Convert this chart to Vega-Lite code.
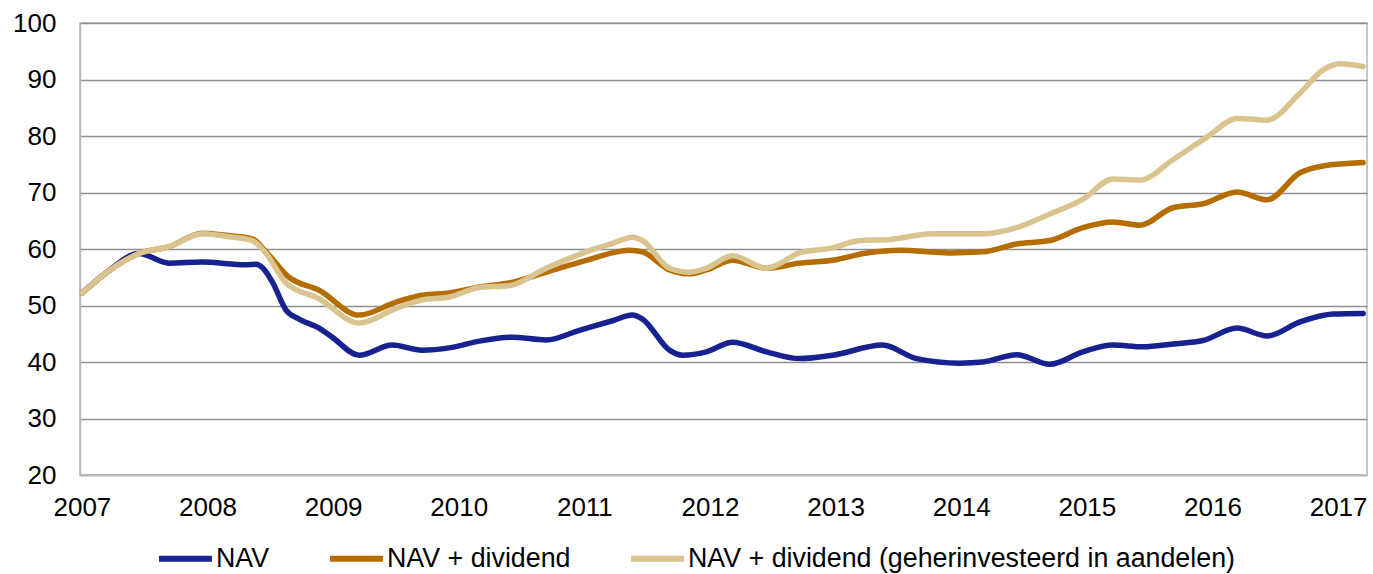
{
  "$schema": "https://vega.github.io/schema/vega-lite/v6.json",
  "width": 1287,
  "height": 452,
  "autosize": {"type": "none"},
  "padding": {"left": 80, "top": 23, "right": 6, "bottom": 99},
  "background": "white",
  "config": {
    "font": "Liberation Sans",
    "view": {"stroke": "#B8B8B8", "strokeWidth": 1.5},
    "axis": {"labelFont": "Liberation Sans", "labelColor": "#000000"}
  },
  "data": {"values": [
    {"series": "NAV", "year": 2007.0, "value": 52.2},
    {"series": "NAV", "year": 2007.2, "value": 55.9},
    {"series": "NAV", "year": 2007.454, "value": 59.2},
    {"series": "NAV", "year": 2007.693, "value": 57.5},
    {"series": "NAV", "year": 2007.956, "value": 57.7},
    {"series": "NAV", "year": 2008.307, "value": 57.2},
    {"series": "NAV", "year": 2008.386, "value": 57.3},
    {"series": "NAV", "year": 2008.45, "value": 56.4},
    {"series": "NAV", "year": 2008.52, "value": 54.0},
    {"series": "NAV", "year": 2008.625, "value": 49.2},
    {"series": "NAV", "year": 2008.729, "value": 47.6},
    {"series": "NAV", "year": 2008.888, "value": 46.0},
    {"series": "NAV", "year": 2008.992, "value": 44.4},
    {"series": "NAV", "year": 2009.207, "value": 41.2},
    {"series": "NAV", "year": 2009.47, "value": 43.0},
    {"series": "NAV", "year": 2009.709, "value": 42.1},
    {"series": "NAV", "year": 2009.924, "value": 42.5},
    {"series": "NAV", "year": 2010.163, "value": 43.7},
    {"series": "NAV", "year": 2010.426, "value": 44.4},
    {"series": "NAV", "year": 2010.697, "value": 43.9},
    {"series": "NAV", "year": 2010.96, "value": 45.6},
    {"series": "NAV", "year": 2011.223, "value": 47.3},
    {"series": "NAV", "year": 2011.382, "value": 48.3},
    {"series": "NAV", "year": 2011.462, "value": 47.6},
    {"series": "NAV", "year": 2011.677, "value": 42.1},
    {"series": "NAV", "year": 2011.781, "value": 41.2},
    {"series": "NAV", "year": 2011.972, "value": 41.8},
    {"series": "NAV", "year": 2012.179, "value": 43.5},
    {"series": "NAV", "year": 2012.45, "value": 41.8},
    {"series": "NAV", "year": 2012.713, "value": 40.6},
    {"series": "NAV", "year": 2012.976, "value": 41.2},
    {"series": "NAV", "year": 2013.375, "value": 43.0},
    {"series": "NAV", "year": 2013.645, "value": 40.6},
    {"series": "NAV", "year": 2013.988, "value": 39.8},
    {"series": "NAV", "year": 2014.171, "value": 40.0},
    {"series": "NAV", "year": 2014.442, "value": 41.3},
    {"series": "NAV", "year": 2014.705, "value": 39.6},
    {"series": "NAV", "year": 2014.968, "value": 41.8},
    {"series": "NAV", "year": 2015.207, "value": 43.0},
    {"series": "NAV", "year": 2015.446, "value": 42.7},
    {"series": "NAV", "year": 2015.685, "value": 43.2},
    {"series": "NAV", "year": 2015.924, "value": 43.8},
    {"series": "NAV", "year": 2016.195, "value": 46.0},
    {"series": "NAV", "year": 2016.434, "value": 44.6},
    {"series": "NAV", "year": 2016.697, "value": 47.1},
    {"series": "NAV", "year": 2016.96, "value": 48.5},
    {"series": "NAV", "year": 2017.199, "value": 48.6},

    {"series": "NAV + dividend", "year": 2007.0, "value": 52.2},
    {"series": "NAV + dividend", "year": 2007.2, "value": 55.9},
    {"series": "NAV + dividend", "year": 2007.454, "value": 59.2},
    {"series": "NAV + dividend", "year": 2007.693, "value": 60.4},
    {"series": "NAV + dividend", "year": 2007.956, "value": 62.8},
    {"series": "NAV + dividend", "year": 2008.195, "value": 62.3},
    {"series": "NAV + dividend", "year": 2008.355, "value": 61.8},
    {"series": "NAV + dividend", "year": 2008.466, "value": 59.5},
    {"series": "NAV + dividend", "year": 2008.649, "value": 55.0},
    {"series": "NAV + dividend", "year": 2008.888, "value": 52.7},
    {"series": "NAV + dividend", "year": 2009.207, "value": 48.3},
    {"series": "NAV + dividend", "year": 2009.502, "value": 50.6},
    {"series": "NAV + dividend", "year": 2009.709, "value": 51.8},
    {"series": "NAV + dividend", "year": 2009.924, "value": 52.2},
    {"series": "NAV + dividend", "year": 2010.163, "value": 53.3},
    {"series": "NAV + dividend", "year": 2010.402, "value": 54.0},
    {"series": "NAV + dividend", "year": 2010.697, "value": 55.9},
    {"series": "NAV + dividend", "year": 2011.016, "value": 58.0},
    {"series": "NAV + dividend", "year": 2011.359, "value": 59.8},
    {"series": "NAV + dividend", "year": 2011.462, "value": 59.5},
    {"series": "NAV + dividend", "year": 2011.677, "value": 56.3},
    {"series": "NAV + dividend", "year": 2011.837, "value": 55.6},
    {"series": "NAV + dividend", "year": 2011.972, "value": 56.3},
    {"series": "NAV + dividend", "year": 2012.179, "value": 58.0},
    {"series": "NAV + dividend", "year": 2012.45, "value": 56.6},
    {"series": "NAV + dividend", "year": 2012.713, "value": 57.5},
    {"series": "NAV + dividend", "year": 2012.976, "value": 58.0},
    {"series": "NAV + dividend", "year": 2013.247, "value": 59.3},
    {"series": "NAV + dividend", "year": 2013.51, "value": 59.8},
    {"series": "NAV + dividend", "year": 2013.908, "value": 59.3},
    {"series": "NAV + dividend", "year": 2014.171, "value": 59.5},
    {"series": "NAV + dividend", "year": 2014.442, "value": 60.9},
    {"series": "NAV + dividend", "year": 2014.705, "value": 61.5},
    {"series": "NAV + dividend", "year": 2014.968, "value": 63.8},
    {"series": "NAV + dividend", "year": 2015.207, "value": 64.8},
    {"series": "NAV + dividend", "year": 2015.422, "value": 64.2},
    {"series": "NAV + dividend", "year": 2015.685, "value": 67.3},
    {"series": "NAV + dividend", "year": 2015.924, "value": 68.0},
    {"series": "NAV + dividend", "year": 2016.195, "value": 70.1},
    {"series": "NAV + dividend", "year": 2016.434, "value": 68.7},
    {"series": "NAV + dividend", "year": 2016.697, "value": 73.5},
    {"series": "NAV + dividend", "year": 2016.88, "value": 74.7},
    {"series": "NAV + dividend", "year": 2017.199, "value": 75.3},

    {"series": "NAV + dividend (geherinvesteerd in aandelen)", "year": 2007.0, "value": 52.2},
    {"series": "NAV + dividend (geherinvesteerd in aandelen)", "year": 2007.2, "value": 55.9},
    {"series": "NAV + dividend (geherinvesteerd in aandelen)", "year": 2007.454, "value": 59.2},
    {"series": "NAV + dividend (geherinvesteerd in aandelen)", "year": 2007.693, "value": 60.4},
    {"series": "NAV + dividend (geherinvesteerd in aandelen)", "year": 2007.956, "value": 62.7},
    {"series": "NAV + dividend (geherinvesteerd in aandelen)", "year": 2008.195, "value": 62.1},
    {"series": "NAV + dividend (geherinvesteerd in aandelen)", "year": 2008.355, "value": 61.5},
    {"series": "NAV + dividend (geherinvesteerd in aandelen)", "year": 2008.466, "value": 59.2},
    {"series": "NAV + dividend (geherinvesteerd in aandelen)", "year": 2008.625, "value": 54.0},
    {"series": "NAV + dividend (geherinvesteerd in aandelen)", "year": 2008.888, "value": 51.2},
    {"series": "NAV + dividend (geherinvesteerd in aandelen)", "year": 2009.207, "value": 46.9},
    {"series": "NAV + dividend (geherinvesteerd in aandelen)", "year": 2009.502, "value": 49.5},
    {"series": "NAV + dividend (geherinvesteerd in aandelen)", "year": 2009.709, "value": 51.0},
    {"series": "NAV + dividend (geherinvesteerd in aandelen)", "year": 2009.924, "value": 51.5},
    {"series": "NAV + dividend (geherinvesteerd in aandelen)", "year": 2010.163, "value": 53.2},
    {"series": "NAV + dividend (geherinvesteerd in aandelen)", "year": 2010.402, "value": 53.5},
    {"series": "NAV + dividend (geherinvesteerd in aandelen)", "year": 2010.697, "value": 56.6},
    {"series": "NAV + dividend (geherinvesteerd in aandelen)", "year": 2011.016, "value": 59.5},
    {"series": "NAV + dividend (geherinvesteerd in aandelen)", "year": 2011.223, "value": 61.0},
    {"series": "NAV + dividend (geherinvesteerd in aandelen)", "year": 2011.382, "value": 62.1},
    {"series": "NAV + dividend (geherinvesteerd in aandelen)", "year": 2011.462, "value": 61.5},
    {"series": "NAV + dividend (geherinvesteerd in aandelen)", "year": 2011.677, "value": 56.6},
    {"series": "NAV + dividend (geherinvesteerd in aandelen)", "year": 2011.837, "value": 55.9},
    {"series": "NAV + dividend (geherinvesteerd in aandelen)", "year": 2011.972, "value": 56.6},
    {"series": "NAV + dividend (geherinvesteerd in aandelen)", "year": 2012.179, "value": 58.8},
    {"series": "NAV + dividend (geherinvesteerd in aandelen)", "year": 2012.45, "value": 56.6},
    {"series": "NAV + dividend (geherinvesteerd in aandelen)", "year": 2012.713, "value": 59.3},
    {"series": "NAV + dividend (geherinvesteerd in aandelen)", "year": 2012.976, "value": 60.2},
    {"series": "NAV + dividend (geherinvesteerd in aandelen)", "year": 2013.191, "value": 61.5},
    {"series": "NAV + dividend (geherinvesteerd in aandelen)", "year": 2013.43, "value": 61.7},
    {"series": "NAV + dividend (geherinvesteerd in aandelen)", "year": 2013.773, "value": 62.7},
    {"series": "NAV + dividend (geherinvesteerd in aandelen)", "year": 2014.171, "value": 62.7},
    {"series": "NAV + dividend (geherinvesteerd in aandelen)", "year": 2014.442, "value": 63.8},
    {"series": "NAV + dividend (geherinvesteerd in aandelen)", "year": 2014.705, "value": 66.2},
    {"series": "NAV + dividend (geherinvesteerd in aandelen)", "year": 2014.968, "value": 68.8},
    {"series": "NAV + dividend (geherinvesteerd in aandelen)", "year": 2015.207, "value": 72.4},
    {"series": "NAV + dividend (geherinvesteerd in aandelen)", "year": 2015.422, "value": 72.2},
    {"series": "NAV + dividend (geherinvesteerd in aandelen)", "year": 2015.685, "value": 75.8},
    {"series": "NAV + dividend (geherinvesteerd in aandelen)", "year": 2015.956, "value": 79.8},
    {"series": "NAV + dividend (geherinvesteerd in aandelen)", "year": 2016.195, "value": 83.1},
    {"series": "NAV + dividend (geherinvesteerd in aandelen)", "year": 2016.434, "value": 82.8},
    {"series": "NAV + dividend (geherinvesteerd in aandelen)", "year": 2016.697, "value": 87.6},
    {"series": "NAV + dividend (geherinvesteerd in aandelen)", "year": 2016.88, "value": 91.7},
    {"series": "NAV + dividend (geherinvesteerd in aandelen)", "year": 2017.016, "value": 92.8},
    {"series": "NAV + dividend (geherinvesteerd in aandelen)", "year": 2017.199, "value": 92.3}
  ]},
  "mark": {"type": "line", "interpolate": "monotone", "strokeWidth": 5.5, "strokeCap": "round", "strokeJoin": "round"},
  "encoding": {
    "x": {
      "field": "year", "type": "quantitative",
      "scale": {"domain": [2006.985, 2017.23], "nice": false, "zero": false},
      "axis": {
        "title": null, "values": [2007, 2008, 2009, 2010, 2011, 2012, 2013, 2014, 2015, 2016, 2017],
        "format": "d", "grid": false, "ticks": false, "domain": true, "domainColor": "#B8B8B8", "domainWidth": 1.5,
        "labelFontSize": 26, "labelPadding": 19, "labelFlush": false, "labelOverlap": false, "labelColor": "#000000"
      }
    },
    "y": {
      "field": "value", "type": "quantitative",
      "scale": {"domain": [20, 100], "nice": false, "zero": false},
      "axis": {
        "title": null, "values": [20, 30, 40, 50, 60, 70, 80, 90, 100],
        "grid": true, "gridColor": "#8E8E8E", "gridWidth": 1.4, "ticks": false,
        "domain": true, "domainColor": "#B8B8B8", "domainWidth": 1.5,
        "labelFontSize": 26, "labelPadding": 24, "labelColor": "#000000"
      }
    },
    "color": {
      "field": "series", "type": "nominal",
      "scale": {
        "domain": ["NAV", "NAV + dividend", "NAV + dividend (geherinvesteerd in aandelen)"],
        "range": ["#172290", "#B56D00", "#D9C48F"]
      },
      "legend": {
        "title": null, "orient": "none", "legendX": 76, "legendY": 506, "direction": "horizontal",
        "symbolType": "stroke", "symbolSize": 2800, "symbolStrokeWidth": 6,
        "labelFontSize": 26.8, "labelFont": "Liberation Sans", "labelColor": "#000000", "labelLimit": 0,
        "labelOffset": 1, "columnPadding": 48
      }
    }
  }
}
